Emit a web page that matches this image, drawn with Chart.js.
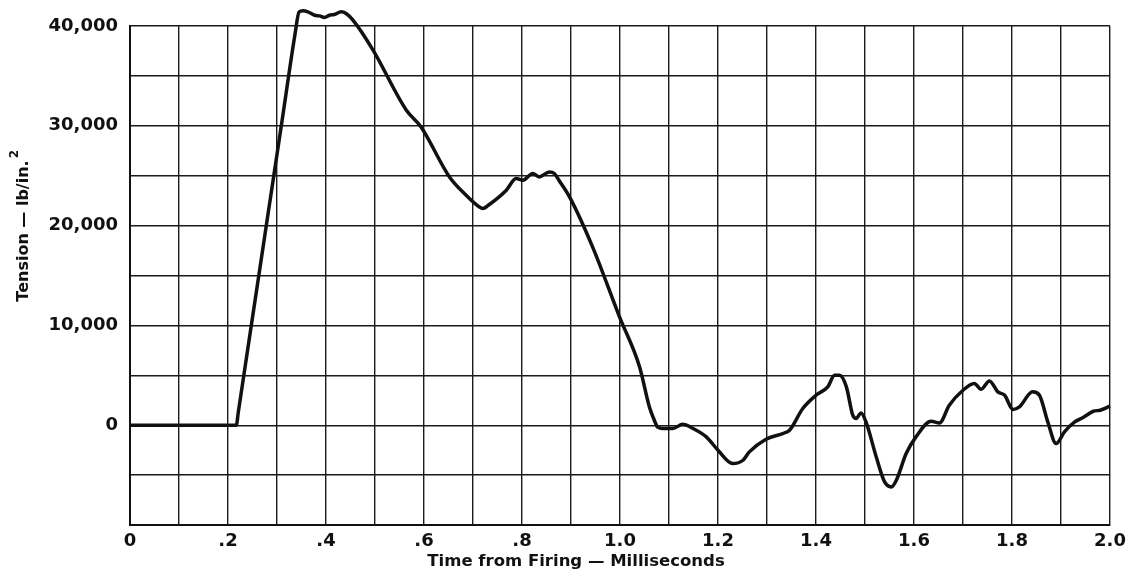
<!DOCTYPE html>
<html>
<head>
<meta charset="utf-8">
<script src="https://cdn.jsdelivr.net/npm/chart.js"></script>
<style>
  html, body { margin: 0; padding: 0; background: #fff; }
  #wrap { width: 1134px; height: 576px; }
</style>
</head>
<body>
<div id="wrap"><canvas id="c" width="1134" height="576"></canvas></div>
<script>
// Tension vs. time after firing

const timeMs = [
  0, 0.1, 0.217, 0.221, 0.25, 0.28, 0.31, 0.337, 0.345, 0.353, 0.363, 0.377, 0.387, 0.397, 0.407, 0.417,
  0.431, 0.441, 0.455, 0.496, 0.564, 0.594, 0.652, 0.686, 0.713, 0.720, 0.734, 0.768, 0.788, 0.802, 0.822,
  0.835, 0.856, 0.866, 0.876, 0.897, 0.944, 0.999, 1.040, 1.060, 1.070, 1.077, 1.087, 1.108, 1.128, 1.149,
  1.176, 1.200, 1.230, 1.251, 1.264, 1.298, 1.332, 1.346, 1.373, 1.400, 1.424, 1.438, 1.448, 1.462, 1.475,
  1.482, 1.492, 1.502, 1.523, 1.540, 1.554, 1.564, 1.584, 1.604, 1.635, 1.652, 1.672, 1.700, 1.723, 1.737,
  1.754, 1.771, 1.785, 1.802, 1.815, 1.842, 1.856, 1.873, 1.890, 1.907, 1.928, 1.945, 1.966, 1.980, 2.0
];

const tensionPsi = [
  0, 0, 0, 1300, 10800, 20600, 30400, 39250, 41400, 41520, 41420, 41080, 41010, 40850, 41080, 41150,
  41420, 41250, 40580, 37580, 31560, 29890, 24880, 23050, 21870, 21710, 22140, 23550, 24720, 24550, 25220,
  24880, 25380, 25220, 24500, 22880, 17870, 10850, 5840, 1830, 500, -200, -330, -330, 100, -330,
  -1170, -2500, -3840, -3510, -2670, -1400, -835, -500, 1670, 3000, 3840, 5010, 5010, 3840, 1000,
  670, 1230, 330, -3180, -5680, -6180, -5510, -2840, -1170, 400, 230, 2000, 3500, 4180, 3610,
  4440, 3340, 3000, 1570, 1830, 3340, 3000, 330, -1840, -670, 330, 770, 1400, 1500, 1900
];

const yLabels = { 40000: "40,000", 30000: "30,000", 20000: "20,000", 10000: "10,000", 0: "0" };
const xTitle = "Time from Firing \u2014 Milliseconds";
const yTitle = "Tension \u2014 lb/in.";
const yTitleSup = "2";

const FONT = "DejaVu Sans";
const INK = "#111";

const points = timeMs.map((t, i) => ({ x: t, y: tensionPsi[i] }));

// axis titles drawn by hand, the original ones are not centred on the plot
const titlesPlugin = {
  id: "titles",
  afterDraw(chart) {
    const ctx = chart.ctx;
    const area = chart.chartArea;
    ctx.save();
    ctx.fillStyle = INK;
    ctx.font = "bold 16.5px '" + FONT + "'";
    ctx.textAlign = "center";
    ctx.textBaseline = "middle";
    ctx.fillText(xTitle, area.left + 446, 562);

    ctx.translate(24, area.top + 200);
    ctx.rotate(-Math.PI / 2);
    ctx.font = "bold 16px '" + FONT + "'";
    const w = ctx.measureText(yTitle).width;
    ctx.textAlign = "left";
    ctx.fillText(yTitle, -w / 2 - 5, 0);
    ctx.font = "bold 12px '" + FONT + "'";
    ctx.fillText(yTitleSup, w / 2 - 3, -9);
    ctx.restore();
  }
};

new Chart(document.getElementById("c"), {
  type: "line",
  data: {
    datasets: [{
      data: points,
      borderColor: "#111",
      borderWidth: 3.5,
      pointRadius: 0,
      fill: false,
      clip: false,
      cubicInterpolationMode: "monotone"
    }]
  },
  options: {
    responsive: false,
    animation: false,
    layout: { padding: { top: 26, right: 24, bottom: 0, left: 0 } },
    plugins: { legend: { display: false }, tooltip: { enabled: false } },
    scales: {
      x: {
        type: "linear",
        min: 0,
        max: 2,
        afterFit(scale) { scale.height = 51; },
        grid: { color: "#1a1a1a", lineWidth: 1.4, drawTicks: false },
        border: { color: "#111", width: 2 },
        ticks: {
          stepSize: 0.1,
          autoSkip: false,
          maxRotation: 0,
          padding: 6,
          color: INK,
          font: { family: FONT, size: 18, weight: "bold" },
          callback(v) {
            const k = Math.round(v * 10);
            if (k % 2 !== 0) return "";
            if (k === 0) return "0";
            if (k < 10) return "." + k;
            return (k / 10).toFixed(1);
          }
        }
      },
      y: {
        min: -10000,
        max: 40000,
        afterFit(scale) { scale.width = 130; },
        grid: { color: "#1a1a1a", lineWidth: 1.4, drawTicks: false },
        border: { color: "#111", width: 2 },
        ticks: {
          stepSize: 5000,
          autoSkip: false,
          padding: 12,
          color: INK,
          font: { family: FONT, size: 18, weight: "bold" },
          callback(v) { return yLabels[v] !== undefined ? yLabels[v] : ""; }
        }
      }
    }
  },
  plugins: [titlesPlugin]
});
</script>
</body>
</html>
